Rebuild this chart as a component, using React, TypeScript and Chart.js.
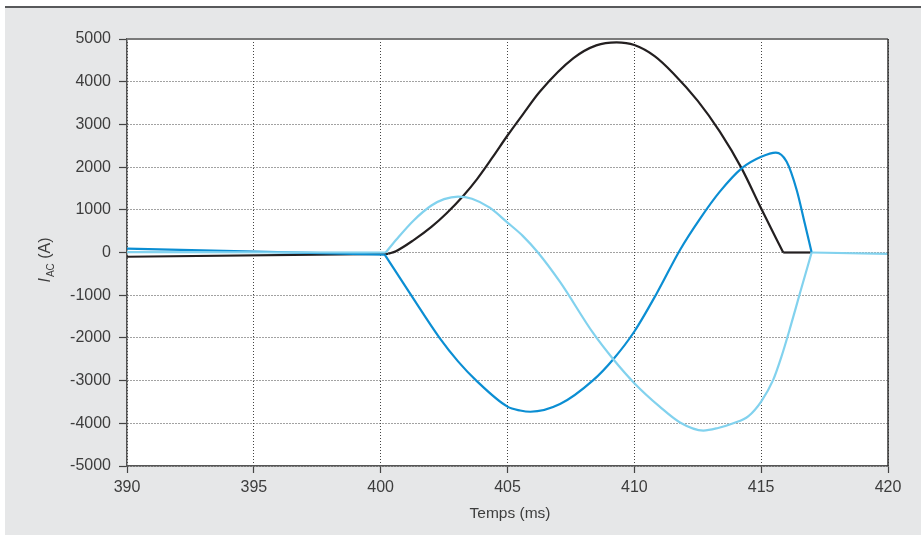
import React, { useEffect, useRef } from "react";
import { Chart, registerables } from "chart.js";

Chart.register(...registerables);

// X axis tick range (ms)
const xMin = 390;
const xMax = 420;
const xStep = 5;
// Y axis range (A)
const yMin = -5000;
const yMax = 5000;
const yStep = 1000;

const xTitle = "Temps (ms)";
const yTitleMain = "I";
const yTitleSub = "AC";
const yTitleUnit = " (A)";

// Pre-fault straight segments (390 -> ~400.2 ms)
const blackPreT = [390, 400.3];
const blackPreV = [-100, -30];
const darkPreT = [390, 400.16];
const darkPreV = [90, -50];
const lightPreT = [390, 400.2];
const lightPreV = [10, 0];

// Black series (curved part)
const blackT = [400.3, 400.6, 401.3, 402.0, 402.6, 403.26, 403.8, 404.4, 405, 405.6, 406.28, 407.6, 408.5, 409.3, 410, 410.8, 411.53, 412.5, 413.37, 414.23, 415, 415.87];
const blackV = [-30, 30, 290, 600, 920, 1330, 1720, 2220, 2740, 3230, 3770, 4550, 4850, 4920, 4860, 4600, 4200, 3550, 2830, 1970, 1030, 0];
// Black flat tail
const blackTailT = [415.87, 416.95];
const blackTailV = [0, 0];

// Dark blue series (curved part)
const darkT = [400.16, 401.2, 402.32, 403.05, 403.77, 405, 405.5, 405.9, 407.07, 408.38, 409.17, 410, 410.88, 411.8, 412.6, 413.37, 414.23, 415, 415.58, 416.0, 416.4, 416.72, 416.99];
const darkV = [-50, -1000, -2000, -2550, -3000, -3610, -3700, -3730, -3550, -2990, -2500, -1850, -960, 60, 800, 1425, 1970, 2240, 2340, 2130, 1465, 680, 0];

// Light blue series (curved part)
const lightT = [400.2, 400.63, 401.3, 402.0, 402.5, 403.05, 403.6, 404.3, 405, 405.6, 406.2, 407.07, 408.38, 409.17, 410, 411.0, 411.8, 412.72, 413.3, 413.9, 414.5, 415, 415.47, 415.8, 416.13, 416.53, 416.99];
const lightV = [0, 310, 750, 1100, 1250, 1310, 1260, 1050, 700, 390, 0, -690, -1890, -2500, -3060, -3610, -3980, -4170, -4110, -4000, -3830, -3490, -2990, -2440, -1790, -950, 0];

// Common tail after 417 ms
const tailT = [416.99, 420];
const tailV = [0, -30];

const BLACK = "#231f20";
const DARK_BLUE = "#0b8ed3";
const LIGHT_BLUE = "#82d2ee";
const TEXT = "#3d3d3d";
const FONT = "'Liberation Sans', Arial, sans-serif";

const toPts = (t: number[], v: number[]) => t.map((x, i) => ({ x, y: v[i] }));

const bgPlugin = {
  id: "plotbg",
  beforeDraw(chart: any) {
    const { ctx, chartArea } = chart;
    ctx.save();
    ctx.fillStyle = "#ffffff";
    ctx.fillRect(chartArea.left, chartArea.top, chartArea.right - chartArea.left, chartArea.bottom - chartArea.top);
    ctx.restore();
  },
};

const decorPlugin = {
  id: "decor",
  afterDraw(chart: any) {
    const { ctx, chartArea } = chart;
    ctx.save();
    ctx.strokeStyle = "#7a7a7a";
    ctx.lineWidth = 2;
    ctx.beginPath();
    ctx.moveTo(chartArea.left, chartArea.top);
    ctx.lineTo(chartArea.right, chartArea.top);
    ctx.stroke();
    ctx.strokeStyle = "#333";
    ctx.lineWidth = 1.5;
    ctx.beginPath();
    ctx.moveTo(chartArea.right, chartArea.top);
    ctx.lineTo(chartArea.right, chartArea.bottom);
    ctx.stroke();

    ctx.fillStyle = TEXT;
    ctx.font = `15.5px ${FONT}`;
    ctx.textAlign = "center";
    ctx.textBaseline = "alphabetic";
    ctx.fillText(xTitle, 505, 510);

    ctx.textAlign = "left";
    const fMain = `italic 16px ${FONT}`;
    const fSub = `10px ${FONT}`;
    const fUnit = `16px ${FONT}`;
    ctx.font = fMain;
    const w1 = ctx.measureText(yTitleMain).width;
    ctx.font = fSub;
    const w2 = ctx.measureText(yTitleSub).width;
    ctx.font = fUnit;
    const w3 = ctx.measureText(yTitleUnit).width;
    const total = w1 + 1 + w2 + w3;
    const cy = 252;
    ctx.translate(45, cy + total / 2);
    ctx.rotate(-Math.PI / 2);
    ctx.font = fMain;
    ctx.fillText(yTitleMain, 0, 0);
    ctx.font = fSub;
    ctx.fillText(yTitleSub, w1 + 1, 4);
    ctx.font = fUnit;
    ctx.fillText(yTitleUnit, w1 + 1 + w2, 0);
    ctx.restore();
  },
};

export default function App() {
  const ref = useRef<HTMLCanvasElement>(null);
  useEffect(() => {
    if (!ref.current) return;
    const lineDs = (label: string, t: number[], v: number[], color: string, curved = true) => ({
      label,
      data: toPts(t, v),
      borderColor: color,
      backgroundColor: color,
      borderWidth: 2.2,
      pointRadius: 0,
      ...(curved ? { cubicInterpolationMode: "monotone" as const } : { tension: 0 }),
      fill: false,
    });
    const chart = new Chart(ref.current, {
      type: "line",
      data: {
        datasets: [
          lineDs("Tail", tailT, tailV, LIGHT_BLUE, false),
          lineDs("LightPre", lightPreT, lightPreV, LIGHT_BLUE, false),
          lineDs("Light", lightT, lightV, LIGHT_BLUE),
          lineDs("DarkPre", darkPreT, darkPreV, DARK_BLUE, false),
          lineDs("Dark", darkT, darkV, DARK_BLUE),
          lineDs("BlackPre", blackPreT, blackPreV, BLACK, false),
          lineDs("Black", blackT, blackV, BLACK),
          lineDs("BlackTail", blackTailT, blackTailV, BLACK, false),
        ],
      },
      options: {
        animation: false,
        responsive: false,
        maintainAspectRatio: false,
        parsing: false as any,
        layout: { padding: { left: 0, top: 31, right: 33, bottom: 0 } },
        plugins: {
          legend: { display: false },
          tooltip: { enabled: false },
          title: { display: false },
        },
        scales: {
          x: {
            type: "linear",
            min: xMin,
            max: xMax,
            afterFit: (s: any) => {
              s.height = 69;
            },
            ticks: {
              stepSize: xStep,
              color: TEXT,
              font: { family: FONT, size: 16 },
              padding: 5,
              maxRotation: 0,
              callback: (v: any) => String(v),
            },
            grid: {
              color: "#444",
              lineWidth: 1,
              tickColor: "#444",
              tickLength: 7,
              tickBorderDash: [],
              tickWidth: 1.2,
            } as any,
            border: { display: true, color: "#555", width: 1.5, dash: [1, 2] } as any,
          },
          y: {
            type: "linear",
            min: yMin,
            max: yMax,
            afterFit: (s: any) => {
              s.width = 122;
            },
            ticks: {
              stepSize: yStep,
              color: TEXT,
              font: { family: FONT, size: 16 },
              padding: 8,
              callback: (v: any) => String(v),
            },
            grid: {
              color: "#444",
              lineWidth: 1,
              tickColor: "#444",
              tickLength: 8,
              tickBorderDash: [],
              tickWidth: 1.2,
            } as any,
            border: { display: true, color: "#555", width: 1.5, dash: [1, 2] } as any,
          },
        },
      },
      plugins: [bgPlugin, decorPlugin],
    });
    return () => chart.destroy();
  }, []);

  return (
    <div
      style={{
        position: "fixed",
        left: 5,
        top: 6,
        width: 916,
        height: 529,
        background: "#e6e7e8",
        borderTop: "2px solid #58595b",
        boxSizing: "border-box",
      }}
    >
      <canvas
        ref={ref}
        width={916}
        height={527}
        style={{ position: "absolute", left: 0, top: 0, width: 916, height: 527 }}
      />
    </div>
  );
}
